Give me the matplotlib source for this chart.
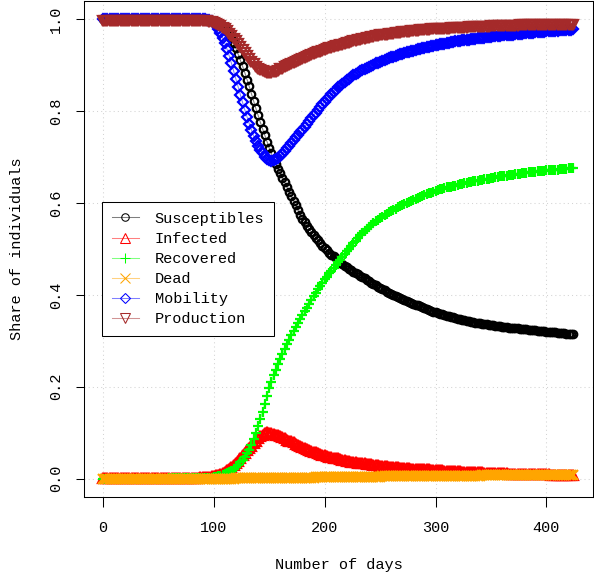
import numpy as np
import matplotlib
matplotlib.use("Agg")
import matplotlib.pyplot as plt

plt.rcParams['font.family'] = ['Liberation Mono', 'DejaVu Sans Mono']
plt.rcParams['font.size'] = 11

# one value every 2 days, day 0 .. 424
days = np.arange(0, 425, 2)

susceptibles = [1.0] * 46 + [0.999, 0.998] + [
    0.997, 0.996, 0.994, 0.992, 0.989, 0.987, 0.983, 0.979, 0.974, 0.968,
    0.960, 0.949, 0.937, 0.924, 0.911, 0.898, 0.884, 0.869, 0.854, 0.838,
    0.822, 0.806, 0.791, 0.776, 0.762, 0.748, 0.734, 0.720, 0.708, 0.696,
    0.685, 0.675, 0.665, 0.655, 0.645, 0.635, 0.625, 0.615, 0.605, 0.595,
    0.585, 0.575, 0.566, 0.559, 0.551, 0.544, 0.537, 0.531, 0.525, 0.519,
    0.513, 0.507, 0.502, 0.497, 0.492, 0.488, 0.484, 0.480, 0.476, 0.472,
    0.468, 0.464, 0.460, 0.457, 0.454, 0.451, 0.448, 0.445, 0.442, 0.439,
    0.436, 0.433, 0.430, 0.427, 0.424, 0.421, 0.418, 0.415, 0.413, 0.410,
    0.407, 0.404, 0.401, 0.399, 0.397, 0.395, 0.393, 0.391, 0.389, 0.387,
    0.385, 0.383, 0.381, 0.379, 0.377, 0.375, 0.373, 0.371, 0.369, 0.367,
    0.365, 0.363, 0.362, 0.360, 0.359, 0.358, 0.356, 0.355, 0.354, 0.352,
    0.351, 0.350, 0.348, 0.347, 0.346, 0.345, 0.344, 0.343, 0.342, 0.341,
    0.339, 0.338, 0.338, 0.337, 0.336, 0.336, 0.335, 0.334, 0.334, 0.333,
    0.332, 0.332, 0.331, 0.330, 0.330, 0.329, 0.329, 0.328, 0.327, 0.327,
    0.326, 0.326, 0.325, 0.325, 0.324, 0.324, 0.323, 0.323, 0.322, 0.322,
    0.321, 0.321, 0.320, 0.320, 0.320, 0.319, 0.319, 0.318, 0.318, 0.317,
    0.317, 0.316, 0.316, 0.315, 0.315,
]

infected = [0.001] * 30 + [0.002] * 14 + [0.003] * 4 + [
    0.004, 0.005, 0.006, 0.007, 0.008, 0.010, 0.012, 0.015, 0.018, 0.021,
    0.025, 0.029, 0.034, 0.039, 0.045, 0.051, 0.056, 0.062, 0.067, 0.072,
    0.078, 0.083, 0.088, 0.092, 0.096, 0.099, 0.101, 0.100, 0.099, 0.097,
    0.096, 0.094, 0.092, 0.090, 0.088, 0.085, 0.083, 0.081, 0.079, 0.076,
    0.074, 0.072, 0.069, 0.067, 0.065, 0.063, 0.061, 0.059, 0.057, 0.056,
    0.054, 0.052, 0.051, 0.050, 0.048, 0.047, 0.046, 0.045, 0.044, 0.043,
    0.041, 0.040, 0.039, 0.038, 0.037, 0.037, 0.036, 0.035, 0.034, 0.034,
    0.033, 0.032, 0.032, 0.031, 0.030, 0.030, 0.029, 0.028, 0.028, 0.027,
    0.027, 0.026, 0.026, 0.025, 0.025, 0.025, 0.024, 0.024, 0.023, 0.023,
    0.023, 0.022, 0.022, 0.022, 0.021, 0.021, 0.021, 0.020, 0.020, 0.020,
    0.019, 0.019, 0.018, 0.018, 0.018, 0.018, 0.017, 0.017, 0.017, 0.017,
    0.016, 0.016, 0.016, 0.016, 0.015, 0.015, 0.015, 0.015, 0.015, 0.014,
    0.014, 0.014, 0.014, 0.014, 0.013, 0.013, 0.013, 0.013, 0.013, 0.012,
    0.012, 0.012, 0.012, 0.012, 0.012, 0.011, 0.011, 0.011, 0.011, 0.011,
    0.011, 0.010, 0.010, 0.010, 0.010, 0.010, 0.010, 0.010, 0.009, 0.009,
    0.009, 0.009, 0.009, 0.009, 0.008, 0.008, 0.008, 0.008, 0.008, 0.008,
    0.007, 0.007, 0.007, 0.007, 0.007,
]

recovered = [0.0] * 30 + [0.001] * 18 + [
    0.002, 0.002, 0.003, 0.004, 0.005, 0.006, 0.008, 0.010, 0.012, 0.014,
    0.017, 0.021, 0.025, 0.030, 0.036, 0.041, 0.047, 0.055, 0.063, 0.074,
    0.086, 0.100, 0.115, 0.130, 0.146, 0.163, 0.180, 0.197, 0.211, 0.225,
    0.237, 0.249, 0.261, 0.272, 0.283, 0.293, 0.302, 0.312, 0.321, 0.330,
    0.339, 0.347, 0.356, 0.364, 0.372, 0.381, 0.389, 0.397, 0.405, 0.412,
    0.420, 0.427, 0.434, 0.440, 0.447, 0.453, 0.459, 0.465, 0.471, 0.477,
    0.483, 0.489, 0.495, 0.501, 0.506, 0.512, 0.518, 0.524, 0.530, 0.535,
    0.540, 0.544, 0.548, 0.552, 0.556, 0.560, 0.563, 0.567, 0.570, 0.573,
    0.577, 0.580, 0.583, 0.586, 0.588, 0.591, 0.594, 0.596, 0.599, 0.601,
    0.603, 0.605, 0.607, 0.609, 0.611, 0.613, 0.615, 0.617, 0.619, 0.621,
    0.623, 0.625, 0.627, 0.628, 0.630, 0.631, 0.632, 0.634, 0.635, 0.636,
    0.637, 0.638, 0.640, 0.641, 0.642, 0.643, 0.644, 0.645, 0.646, 0.647,
    0.648, 0.649, 0.650, 0.651, 0.652, 0.653, 0.653, 0.654, 0.655, 0.656,
    0.657, 0.658, 0.658, 0.659, 0.660, 0.661, 0.661, 0.662, 0.663, 0.663,
    0.664, 0.665, 0.665, 0.666, 0.667, 0.667, 0.668, 0.668, 0.669, 0.669,
    0.670, 0.670, 0.671, 0.671, 0.672, 0.672, 0.673, 0.673, 0.674, 0.674,
    0.675, 0.675, 0.676, 0.676, 0.677,
]

dead = [0.0] * 60 + [0.001] * 21 + [0.002] * 15 + [0.003] * 15 + \
    [0.004] * 15 + [0.005] * 20 + [0.006] * 25 + [0.007] * 30 + [0.008] * 12

mobility = [1.0] * 47 + [0.999] + [
    0.998, 0.996, 0.992, 0.987, 0.980, 0.971, 0.960, 0.948, 0.935, 0.920,
    0.904, 0.887, 0.870, 0.853, 0.836, 0.819, 0.803, 0.788, 0.773, 0.759,
    0.746, 0.735, 0.725, 0.716, 0.708, 0.701, 0.696, 0.693, 0.692, 0.693,
    0.695, 0.698, 0.702, 0.707, 0.713, 0.719, 0.725, 0.731, 0.737, 0.743,
    0.749, 0.755, 0.760, 0.766, 0.772, 0.778, 0.785, 0.791, 0.797, 0.803,
    0.809, 0.815, 0.821, 0.826, 0.832, 0.837, 0.842, 0.847, 0.852, 0.856,
    0.860, 0.864, 0.868, 0.871, 0.875, 0.878, 0.881, 0.884, 0.887, 0.889,
    0.892, 0.894, 0.897, 0.899, 0.901, 0.904, 0.906, 0.908, 0.910, 0.912,
    0.914, 0.916, 0.918, 0.919, 0.921, 0.922, 0.924, 0.925, 0.927, 0.928,
    0.929, 0.931, 0.932, 0.933, 0.935, 0.936, 0.937, 0.938, 0.939, 0.940,
    0.942, 0.943, 0.944, 0.945, 0.946, 0.947, 0.947, 0.948, 0.949, 0.950,
    0.951, 0.952, 0.952, 0.953, 0.954, 0.955, 0.955, 0.956, 0.957, 0.957,
    0.958, 0.959, 0.959, 0.960, 0.960, 0.961, 0.962, 0.962, 0.963, 0.963,
    0.964, 0.964, 0.965, 0.965, 0.966, 0.966, 0.967, 0.967, 0.968, 0.968,
    0.969, 0.969, 0.970, 0.970, 0.970, 0.971, 0.971, 0.972, 0.972, 0.972,
    0.973, 0.973, 0.974, 0.974, 0.974, 0.975, 0.975, 0.975, 0.976, 0.976,
    0.976, 0.977, 0.977, 0.977, 0.978,
]

production = [0.997] * 46 + [0.996, 0.996] + [
    0.995, 0.994, 0.992, 0.990, 0.988, 0.985, 0.982, 0.978, 0.974, 0.969,
    0.964, 0.958, 0.952, 0.946, 0.940, 0.933, 0.926, 0.920, 0.913, 0.907,
    0.902, 0.897, 0.893, 0.890, 0.887, 0.885, 0.884, 0.883, 0.884, 0.885,
    0.886, 0.888, 0.891, 0.893, 0.896, 0.898, 0.900, 0.903, 0.905, 0.907,
    0.910, 0.912, 0.914, 0.916, 0.918, 0.920, 0.922, 0.924, 0.926, 0.928,
    0.930, 0.932, 0.933, 0.935, 0.937, 0.938, 0.940, 0.941, 0.943, 0.944,
    0.945, 0.947, 0.948, 0.949, 0.951, 0.952, 0.953, 0.955, 0.956, 0.957,
    0.958, 0.959, 0.960, 0.961, 0.962, 0.963, 0.964, 0.965, 0.966, 0.966,
    0.967, 0.968, 0.969, 0.969, 0.970, 0.970, 0.971, 0.972, 0.972, 0.973,
    0.973, 0.974, 0.974, 0.975, 0.975, 0.976, 0.976, 0.977, 0.977, 0.977,
    0.978, 0.978, 0.978, 0.979, 0.979, 0.979, 0.980, 0.980, 0.980, 0.981,
    0.981, 0.981, 0.981, 0.982, 0.982, 0.982, 0.982, 0.983, 0.983, 0.983,
    0.983, 0.983, 0.984, 0.984, 0.984, 0.984, 0.984, 0.985, 0.985, 0.985,
    0.985, 0.985, 0.985, 0.986, 0.986, 0.986, 0.986, 0.986, 0.986, 0.986,
    0.987, 0.987, 0.987, 0.987, 0.987, 0.987, 0.987, 0.987, 0.987, 0.987,
    0.988, 0.988, 0.988, 0.988, 0.988, 0.988, 0.988, 0.988, 0.988, 0.988,
    0.988, 0.988, 0.988, 0.988, 0.988,
]

labels = ["Susceptibles", "Infected", "Recovered", "Dead", "Mobility", "Production"]
colors = ["#000000", "#FF0000", "#00FF00", "#FFA500", "#0000FF", "#A52A2A"]
markers = ["o", "^", "+", "x", "D", "v"]
msizes = [5.4, 7.0, 7.5, 6.5, 4.6, 7.0]

series = [susceptibles, infected, recovered, dead, mobility, production]

fig = plt.figure(figsize=(5.94, 5.76), dpi=100)
ax = fig.add_axes([84 / 594, 79 / 576, 509 / 594, 496 / 576])

# daily markers in the original make solid bands; thicker edges fake that density
for vals, lab, col, mk, ms in zip(series, labels, colors, markers, msizes):
    rgb = matplotlib.colors.to_rgb(col)
    ax.plot(days, vals, color=rgb + (0.5,), lw=0.75, marker=mk, ms=ms,
            mec=col, mfc="none", mew=1.6, label=lab)

ax.set_xlim(-17, 442)
ax.set_ylim(-0.04, 1.04)
ax.set_xticks([0, 100, 200, 300, 400])
ax.set_yticks([0.0, 0.2, 0.4, 0.6, 0.8, 1.0])
ax.set_yticklabels(["0.0", "0.2", "0.4", "0.6", "0.8", "1.0"])
ax.grid(True, color="#D3D3D3", linestyle=(0, (1, 3)), lw=0.75)
ax.set_axisbelow(True)

ax.tick_params(axis="x", length=7, width=0.75, pad=10)
ax.tick_params(axis="y", length=6, width=0.75, pad=9)
for t in ax.get_yticklabels():
    t.set_rotation(90)
    t.set_va("center")
for s in ax.spines.values():
    s.set_linewidth(0.75)

ax.set_xlabel("Number of days")
ax.set_ylabel("Share of individuals")
ax.xaxis.set_label_coords(0.5, -0.123)
ax.yaxis.set_label_coords(-0.118, 0.5)

leg = ax.legend(loc="upper left", bbox_to_anchor=(0.035, 0.595), borderaxespad=0,
                fancybox=False, framealpha=1, edgecolor="black", numpoints=1,
                handlelength=1.8, handletextpad=1.0, labelspacing=0.4, borderpad=0.65)
leg.get_frame().set_linewidth(0.75)
for h in leg.legend_handles:
    h.set_markeredgewidth(0.75)

fig.savefig("out.png", dpi=100)
